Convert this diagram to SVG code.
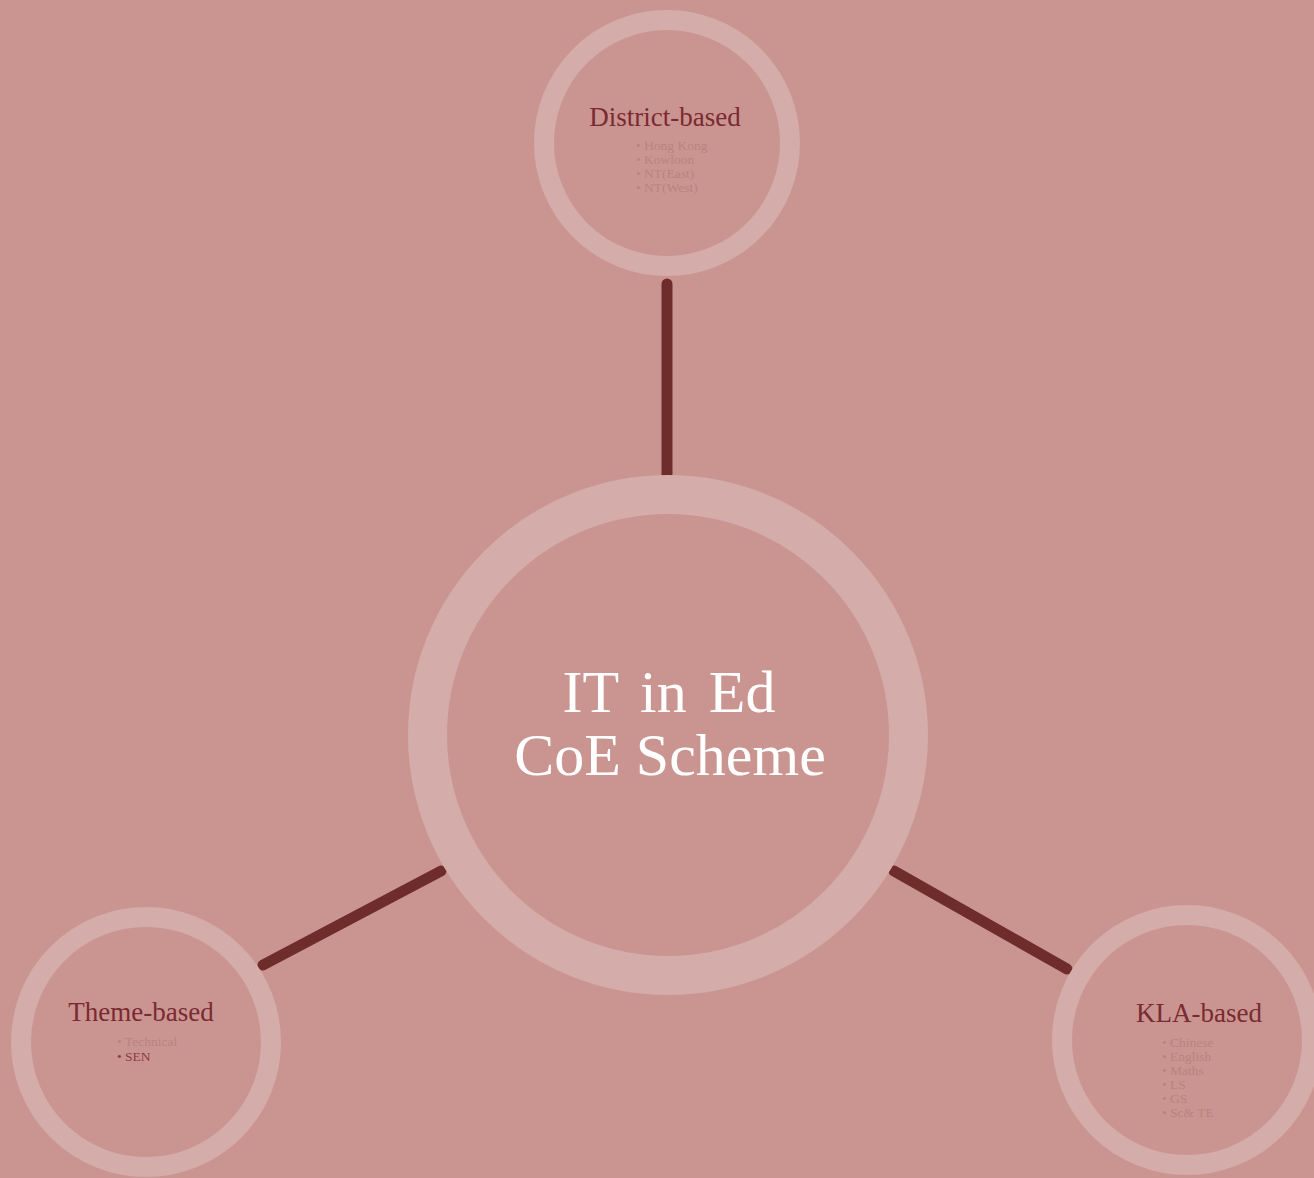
<svg xmlns="http://www.w3.org/2000/svg" width="1314" height="1178" viewBox="0 0 1314 1178">
<style>
.ring{fill:none;stroke:#D4ACA9}
.conn{stroke:#6E2D2B;stroke-width:11;stroke-linecap:round;fill:none}
.title{font-family:"Liberation Serif",serif;fill:#7A2A32;font-size:27px;text-anchor:middle}
.item{font-family:"Liberation Serif",serif;fill:#B8837F;font-size:13.5px}
.main{font-family:"Liberation Serif",serif;fill:#FFFFFF;font-size:60px;text-anchor:middle}
</style>
<rect width="1314" height="1178" fill="#CA9590"/>
<g id="connectors">
<line class="conn" x1="667" y1="284" x2="667" y2="474"/>
<line class="conn" x1="441" y1="871" x2="263" y2="965"/>
<line class="conn" x1="894" y1="871" x2="1067" y2="969"/>
</g>
<g id="center">
<circle class="ring" cx="668" cy="735" r="240.5" stroke-width="39"/>
<text class="main" x="669" y="712" word-spacing="7">IT in Ed</text>
<text class="main" x="670" y="775">CoE Scheme</text>
</g>
<g id="district">
<circle class="ring" cx="667" cy="143" r="123" stroke-width="20"/>
<text class="title" x="665" y="126">District-based</text>
<text class="item" x="636" y="150">• Hong Kong</text>
<text class="item" x="636" y="164">• Kowloon</text>
<text class="item" x="636" y="178">• NT(East)</text>
<text class="item" x="636" y="192">• NT(West)</text>
</g>
<g id="theme">
<circle class="ring" cx="146" cy="1042" r="125" stroke-width="20"/>
<text class="title" x="141" y="1021">Theme-based</text>
<text class="item" x="117" y="1046">• Technical</text>
<text class="item" x="117" y="1061" style="fill:#8A3C42">• SEN</text>
</g>
<g id="kla">
<circle class="ring" cx="1187" cy="1040" r="125" stroke-width="20"/>
<text class="title" x="1199" y="1022">KLA-based</text>
<text class="item" x="1162" y="1047">• Chinese</text>
<text class="item" x="1162" y="1061">• English</text>
<text class="item" x="1162" y="1075">• Maths</text>
<text class="item" x="1162" y="1089">• LS</text>
<text class="item" x="1162" y="1103">• GS</text>
<text class="item" x="1162" y="1117">• Sc&amp; TE</text>
</g>
</svg>
